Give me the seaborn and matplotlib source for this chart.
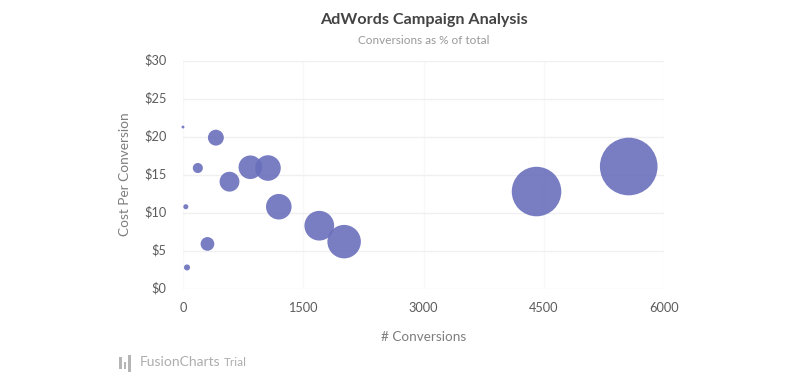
import matplotlib
matplotlib.use("Agg")
import matplotlib.pyplot as plt
from matplotlib.patches import Rectangle
from matplotlib.transforms import ScaledTranslation
import pandas as pd
import seaborn as sns

conversions = [0, 410, 185, 580, 840, 1060, 1195, 35, 1700, 2010, 305, 50, 4410, 5560]
cost_per_conversion = [21.3, 19.9, 15.9, 14.1, 16.0, 15.9, 10.8, 10.8, 8.3, 6.2, 5.9, 2.8, 12.8, 16.1]
pct_of_total = [0.04, 2.3, 0.9, 3.6, 5.1, 6.0, 6.0, 0.2, 8.1, 10.3, 1.7, 0.3, 22.6, 30.6]
x_ticks = [0, 1500, 3000, 4500, 6000]
y_ticks = [0, 5, 10, 15, 20, 25, 30]
y_tick_labels = ["$0", "$5", "$10", "$15", "$20", "$25", "$30"]

W, H = 800, 388
sns.set_theme(style="white")
plt.rcParams["font.family"] = ["Lato", "DejaVu Sans"]

fig = plt.figure(figsize=(W / 100, H / 100), dpi=100, facecolor="white")
ax = fig.add_axes([183 / W, 1 - 288.7 / H, (664 - 183) / W, (288.7 - 61) / H])

df = pd.DataFrame({"x": conversions, "y": cost_per_conversion, "s": pct_of_total})
sns.scatterplot(data=df, x="x", y="y", size="s", sizes=(2, 1745), size_norm=(0, 31),
                color="#6a6fbc", alpha=0.9, edgecolor="none", linewidth=0,
                legend=False, clip_on=False, zorder=3, ax=ax)

ax.set_xlim(0, 6000)
ax.set_ylim(0, 30)
ax.set_xticks(x_ticks)
ax.set_yticks(y_ticks)
ax.set_yticklabels(y_tick_labels)
ax.tick_params(length=0, labelsize=9.2, labelcolor="#5c5c5c")
ax.tick_params(axis="y", pad=12)
ax.tick_params(axis="x", pad=9.5)
shift_up = ScaledTranslation(0, 1.5 / 100, fig.dpi_scale_trans)
for label in ax.get_yticklabels():
    label.set_transform(label.get_transform() + shift_up)
ax.xaxis.grid(True, color="#f8f8f8", linewidth=1)
ax.yaxis.grid(True, color="#f0f0f0", linewidth=1)
ax.set_axisbelow(True)
for spine in ax.spines.values():
    spine.set_visible(False)
ax.set_xlabel("")
ax.set_ylabel("")

fig.text(423.5 / W, 1 - 20 / H, "AdWords Campaign Analysis", ha="center", va="center",
         fontsize=11.6, fontweight="bold", color="#444444")
fig.text(423.5 / W, 1 - 40 / H, "Conversions as % of total", ha="center", va="center",
         fontsize=8.5, color="#999999")
fig.text(423.5 / W, 1 - 337 / H, "# Conversions", ha="center", va="center",
         fontsize=9.7, color="#7d7d7d")
fig.text(125 / W, 1 - 174 / H, "Cost Per Conversion", ha="center", va="center",
         rotation=90, fontsize=9.8, color="#7d7d7d")
fig.text(140 / W, 1 - 362 / H, "FusionCharts", ha="left", va="center",
         fontsize=10, color="#adadad")
fig.text(224 / W, 1 - 362.5 / H, "Trial", ha="left", va="center",
         fontsize=8.5, color="#adadad")

for x0, top, bottom in [(119, 357, 369), (123.5, 362, 369), (128, 355, 372)]:
    fig.add_artist(Rectangle((x0 / W, 1 - bottom / H), 2.6 / W, (bottom - top) / H,
                             transform=fig.transFigure, color="#b5b5b5", lw=0))

fig.savefig("out.png", dpi=100, facecolor="white")
